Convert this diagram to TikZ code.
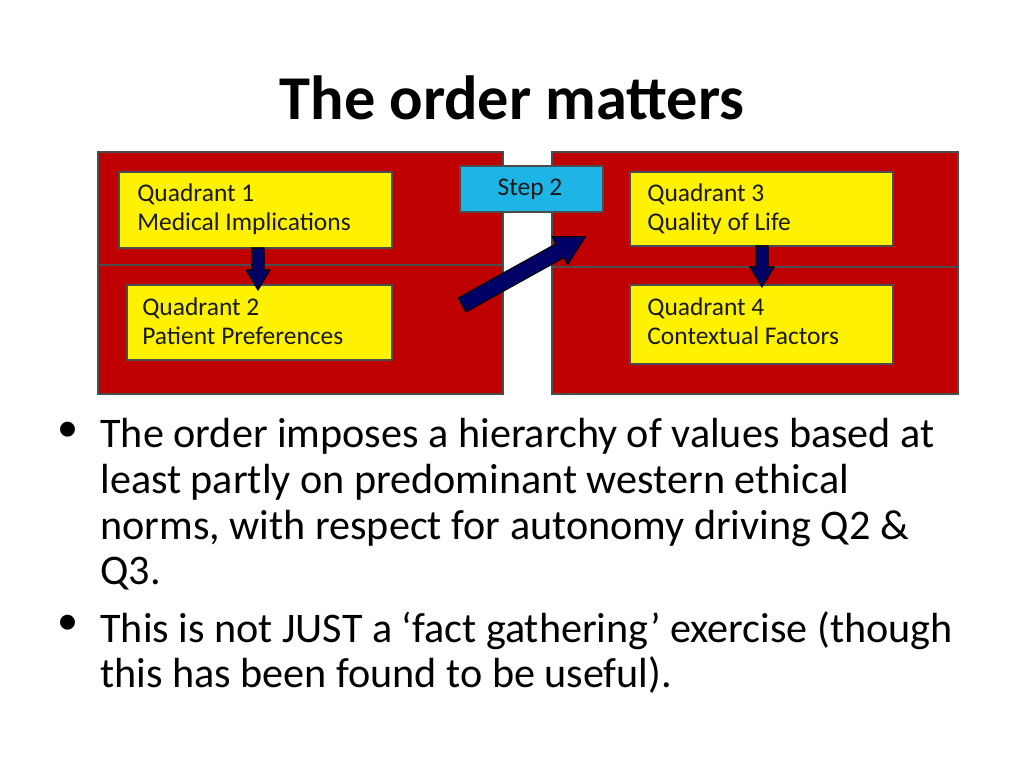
\documentclass[tikz,border=0pt]{standalone}
\usepackage{fontspec}
\setmainfont{Carlito}
\begin{document}
\begin{tikzpicture}[x=0.02cm,y=-0.02cm,
 panel/.style={draw=black!70,fill=red!75!black,line width=0.8pt},
 ybox/.style={draw=black!70,fill=yellow,line width=0.8pt},
 qtext/.style={anchor=north west,align=left,inner sep=0pt,font=\fontsize{14.5}{17}\selectfont,text=black!90},
 darr/.style={draw=black,fill=blue!40!black,line width=0.6pt},
 btext/.style={anchor=north west,align=left,inner sep=0pt,font=\fontsize{24}{26}\selectfont}]
\useasboundingbox (0,0) rectangle (1024,768);
\node[font=\fontsize{35.5}{40}\selectfont\bfseries] (title) at (512,98) {The order matters};
% panels
\draw[panel] (98,152) rectangle (503,394);
\draw[black!70,line width=0.8pt] (98,265) -- (503,265);
\draw[panel] (552,152) rectangle (958,394);
\draw[black!70,line width=0.8pt] (552,267) -- (958,267);
% boxes
\draw[ybox] (119,172) rectangle (392,248);
\node[qtext] (q1) at (137,183) {Quadrant 1\\Medical Implications};
\draw[ybox] (127,285) rectangle (392,360);
\node[qtext] (q2) at (142,297) {Quadrant 2\\Patient Preferences};
\draw[ybox] (630,172) rectangle (893,246);
\node[qtext] (q3) at (647,183) {Quadrant 3\\Quality of Life};
\draw[ybox] (630,285) rectangle (893,364);
\node[qtext] (q4) at (647,297) {Quadrant 4\\Contextual Factors};
\draw[draw=black!70,fill={rgb,255:red,30;green,180;blue,230},line width=0.8pt] (460,166) rectangle (603,212);
\node[font=\fontsize{14.5}{17}\selectfont,text=black!90] (step) at (530,189) {Step 2};
% down arrows
\draw[darr] (252,248) -- (264,248) -- (264,270) -- (270,270) -- (258,290) -- (246,270) -- (252,270) -- cycle;
\draw[darr] (756,246) -- (768,246) -- (768,267) -- (774,267) -- (762,287) -- (750,267) -- (756,267) -- cycle;
% diagonal arrow
\begin{scope}[shift={(462,305)},rotate=29]
\draw[darr] (0,-8) -- (112,-8) -- (112,-16) -- (141,0) -- (112,16) -- (112,8) -- (0,8) -- cycle;
\end{scope}
% bullets
\node[btext] (b1) at (100,418) {The order imposes a hierarchy of values based at\\
least partly on predominant western ethical\\
norms, with respect for autonomy driving Q2 \&\\
Q3.};
\node[btext] (b2) at (100,611) {This is not JUST a ‘fact gathering’ exercise (though\\
this has been found to be useful).};
\node[font=\fontsize{24}{26}\selectfont] (d1) at (68,432) {•};
\node[font=\fontsize{24}{26}\selectfont] (d2) at (68,625) {•};
\end{tikzpicture}
\end{document}
